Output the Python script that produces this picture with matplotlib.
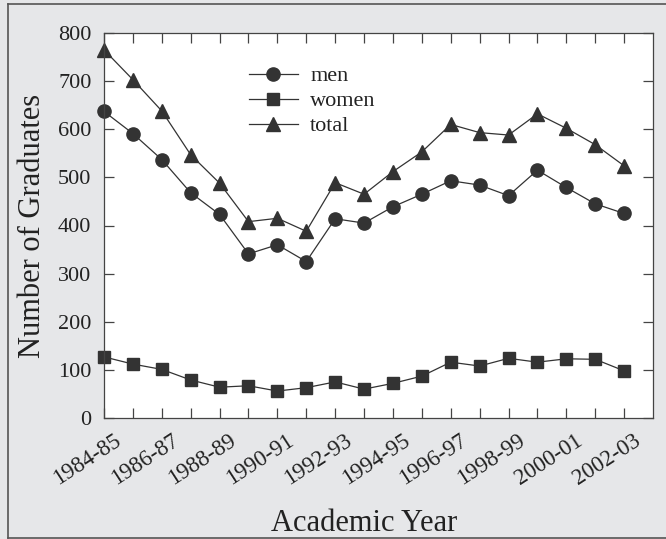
import matplotlib
matplotlib.use("Agg")
import matplotlib.pyplot as plt
from matplotlib.lines import Line2D
from matplotlib.transforms import ScaledTranslation

years = ["1984-85", "1985-86", "1986-87", "1987-88", "1988-89", "1989-90",
         "1990-91", "1991-92", "1992-93", "1993-94", "1994-95", "1995-96",
         "1996-97", "1997-98", "1998-99", "1999-00", "2000-01", "2001-02",
         "2002-03"]
men = [637, 591, 537, 468, 423, 341, 360, 325, 414, 405, 439, 465, 493,
       484, 462, 515, 479, 445, 425]
women = [127, 112, 101, 79, 64, 67, 56, 63, 75, 60, 72, 87, 116, 108,
         124, 116, 123, 122, 98]
total = [765, 703, 638, 547, 488, 408, 415, 388, 489, 465, 512, 553, 610,
         593, 588, 632, 602, 568, 524]
y_ticks = [0, 100, 200, 300, 400, 500, 600, 700, 800]

plt.rcParams["font.family"] = ["Liberation Serif", "DejaVu Serif"]

bg = "#e6e7e9"
ink = "#333333"

fig = plt.figure(figsize=(6.66, 5.39), dpi=100, facecolor=bg)

# dark frame around the panel
W, H = 666, 539
fig.add_artist(Line2D([8 / W, 8 / W], [1 - 538 / H, 1 - 4 / H], color="#555555", lw=1.2))
fig.add_artist(Line2D([8 / W, 1.0], [1 - 4 / H, 1 - 4 / H], color="#555555", lw=1.2))
fig.add_artist(Line2D([8 / W, 1.0], [1 - 538 / H, 1 - 538 / H], color="#555555", lw=1.2))

ax = fig.add_axes([104 / W, 1 - 418 / H, (653 - 104) / W, (418 - 33) / H])
ax.set_facecolor("white")

x = list(range(len(years)))
ax.plot(x, men, color=ink, lw=0.9, marker="o", ms=9.5, label="men")
ax.plot(x, women, color=ink, lw=0.9, marker="s", ms=8.5, label="women")
ax.plot(x, total, color=ink, lw=0.9, marker="^", ms=9.5, label="total")

ax.set_xlim(0, 19)
ax.set_ylim(0, 800)
ax.set_yticks(y_ticks)
ax.set_xticks(x)
ax.set_xticklabels([y if i % 2 == 0 else "" for i, y in enumerate(years)],
                   rotation=33, ha="right", rotation_mode="anchor")
ax.tick_params(direction="in", length=7, width=0.9, color="#444444",
               top=True, right=True, labelsize=16, labelcolor="#222222", pad=9)
ax.tick_params(axis="x", pad=10, labelsize=16.5)
for s in ax.spines.values():
    s.set_color("#444444")
    s.set_linewidth(0.9)
for l in ax.lines:
    l.set_clip_on(False)

# nudge the slanted year labels so they end just past their tick
shift = ScaledTranslation(0.09, 0.02, fig.dpi_scale_trans)
for lab in ax.get_xticklabels():
    lab.set_transform(lab.get_transform() + shift)

ax.set_ylabel("Number of Graduates", fontsize=22, color="#222222", labelpad=8)
ax.set_xlabel("Academic Year", fontsize=22, color="#222222", labelpad=14)
# centre the axis title on the span of the plotted years
ax.xaxis.label.set_x((len(years) - 1) / 2 / 19)

leg = ax.legend(loc="upper left", bbox_to_anchor=(0.264, 0.915), frameon=False,
                fontsize=16, handlelength=2.2, handletextpad=0.55,
                labelspacing=0.2, borderpad=0, borderaxespad=0,
                labelcolor="#222222")

fig.savefig("out.png", dpi=100, facecolor=bg)
